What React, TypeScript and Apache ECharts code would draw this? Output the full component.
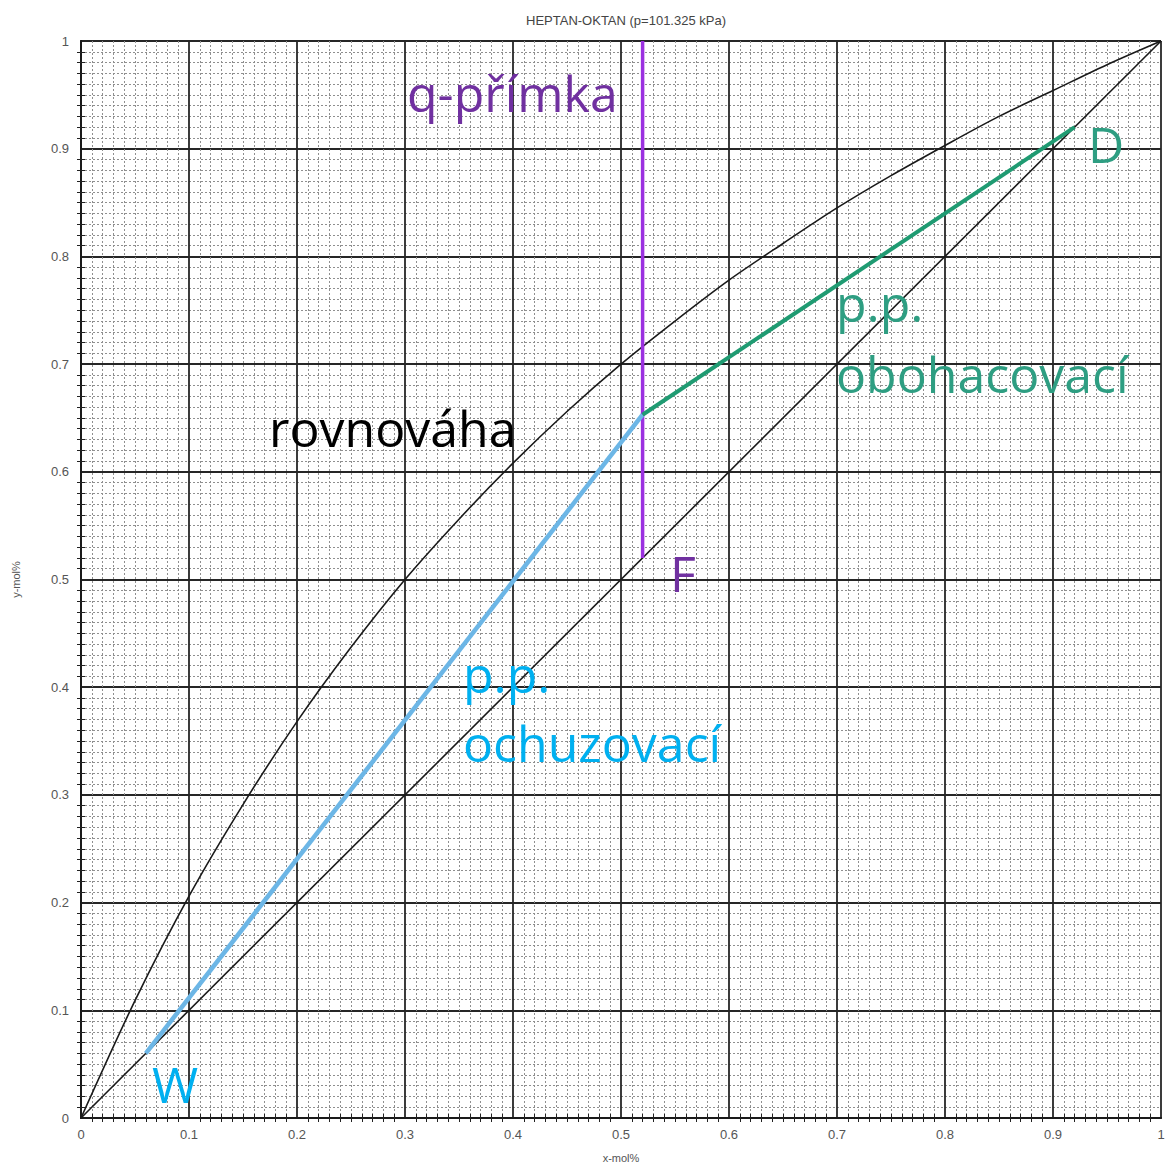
import React, { useEffect, useRef } from "react";
import * as echarts from "echarts";

// Heptane–octane vapour–liquid equilibrium at 101.325 kPa (mole fractions)
const eqX = [0, 0.05, 0.1, 0.15, 0.2, 0.25, 0.3, 0.35, 0.4, 0.45, 0.5, 0.55, 0.6, 0.65, 0.7, 0.75, 0.8, 0.85, 0.9, 0.95, 1];
const eqY = [0, 0.109, 0.206, 0.291, 0.368, 0.437, 0.5, 0.556, 0.608, 0.656, 0.7, 0.74, 0.778, 0.812, 0.845, 0.875, 0.903, 0.93, 0.954, 0.978, 1];

// Key compositions of the McCabe–Thiele construction
const xW = 0.06; // bottoms
const xF = 0.52; // feed
const yPinch = 0.653; // intersection of the operating lines on the q-line
const xD = 0.92; // distillate
const qTop = 1;

const axisTicks = [0, 0.1, 0.2, 0.3, 0.4, 0.5, 0.6, 0.7, 0.8, 0.9, 1];

const LABEL_FONT = "'Open Sans', 'Noto Sans', sans-serif";
const AXIS_FONT = "Arial, 'Liberation Sans', sans-serif";

export default function App() {
  const ref = useRef<HTMLDivElement>(null);

  useEffect(() => {
    document.body.style.margin = "0";
    const chart = echarts.init(ref.current!, undefined, { renderer: "svg" });

    const fmt = (v: number) => {
      const t = axisTicks.find((a) => Math.abs(a - v) < 1e-9);
      return t === undefined ? "" : String(t);
    };

    const baseAxis = {
      type: "value" as const,
      min: 0,
      max: 1,
      interval: 0.1,
      axisLine: { show: true, lineStyle: { color: "#1a1a1a", width: 2 } },
      axisTick: { show: false },
      minorTick: { show: true, splitNumber: 10, length: 4, lineStyle: { color: "#222", width: 1 } },
      splitLine: { show: true, lineStyle: { color: "#262626", width: 1.8 } },
      minorSplitLine: { show: true, lineStyle: { color: "#8f8f8f", width: 1, type: [2, 2] as any } },
      axisLabel: { color: "#555", fontSize: 13, fontFamily: AXIS_FONT, formatter: fmt },
      nameTextStyle: { color: "#555", fontSize: 11, fontFamily: AXIS_FONT },
    };

    const sideAxis = {
      type: "value" as const,
      min: 0,
      max: 1,
      interval: 0.1,
      axisLine: { show: true, lineStyle: { color: "#1a1a1a", width: 2 } },
      axisTick: { show: false },
      minorTick: { show: true, splitNumber: 10, length: 4, lineStyle: { color: "#222", width: 1 } },
      splitLine: { show: false },
      minorSplitLine: { show: false },
      axisLabel: { show: false },
    };

    // annotation text placed by the top-left corner of its box
    const text = (t: string, x: number, y: number, color: string) => ({
      type: "text",
      left: x,
      top: y,
      z: 100,
      style: {
        text: t,
        fill: color,
        font: `50px ${LABEL_FONT}`,
      },
    });

    chart.setOption({
      animation: false,
      backgroundColor: "#fff",
      title: {
        text: "HEPTAN-OKTAN (p=101.325 kPa)",
        left: 621,
        textAlign: "center",
        top: 9,
        textStyle: { color: "#444", fontSize: 13, fontWeight: "normal", fontFamily: AXIS_FONT },
      },
      grid: { left: 81, right: 8, top: 41, bottom: 47, containLabel: false },
      xAxis: [
        { ...baseAxis, position: "bottom", name: "x-mol%", nameLocation: "middle", nameGap: 34, axisLabel: { ...baseAxis.axisLabel, margin: 10 } },
        { ...sideAxis, position: "top" },
      ],
      yAxis: [
        { ...baseAxis, position: "left", name: "y-mol%", nameLocation: "middle", nameGap: 60, axisLabel: { ...baseAxis.axisLabel, margin: 12 } },
        { ...sideAxis, position: "right" },
      ],
      series: [
        {
          name: "rovnováha",
          type: "line",
          smooth: 0.3,
          showSymbol: false,
          lineStyle: { color: "#1a1a1a", width: 1.6 },
          data: eqX.map((x, i) => [x, eqY[i]]),
          z: 5,
        },
        {
          name: "diagonála",
          type: "line",
          showSymbol: false,
          lineStyle: { color: "#1a1a1a", width: 1.6 },
          data: [[0, 0], [1, 1]],
          z: 5,
        },
        {
          name: "q-přímka",
          type: "line",
          showSymbol: false,
          lineStyle: { color: "#9b30e0", width: 3.5 },
          data: [[xF, xF], [xF, qTop]],
          z: 6,
        },
        {
          name: "p.p. ochuzovací",
          type: "line",
          showSymbol: false,
          lineStyle: { color: "#6cb6e6", width: 4.5 },
          data: [[xW, xW], [xF, yPinch]],
          z: 7,
        },
        {
          name: "p.p. obohacovací",
          type: "line",
          showSymbol: false,
          lineStyle: { color: "#1f9b72", width: 4 },
          data: [[xF, yPinch], [xD, xD]],
          z: 7,
        },
      ],
      graphic: [
        text("q-přímka", 407, 68, "#7030a0"),
        text("rovnováha", 269, 403, "#000000"),
        text("F", 670, 548, "#7030a0"),
        text("D", 1088, 119, "#2e9e82"),
        text("W", 152, 1059, "#00b0f0"),
        text("p.p.", 836, 278, "#2e9e82"),
        text("obohacovací", 836, 349, "#2e9e82"),
        text("p.p.", 463, 649, "#00b0f0"),
        text("ochuzovací", 463, 718, "#00b0f0"),
      ],
    });

    return () => chart.dispose();
  }, []);

  return <div ref={ref} style={{ width: 1169, height: 1168 }} />;
}
